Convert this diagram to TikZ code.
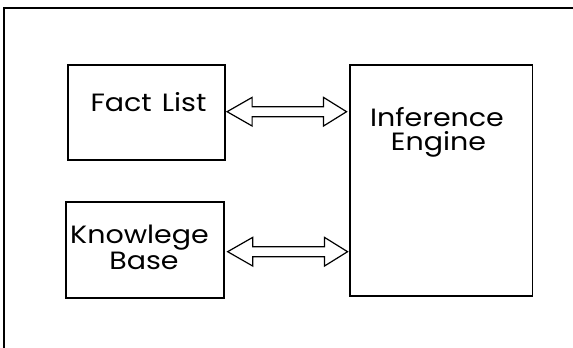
\documentclass[tikz,border=0pt]{standalone}
\usepackage{fontspec}
\setmainfont[FakeStretch=1.14]{Poppins}
\usetikzlibrary{calc}
\tikzset{
  box/.style={draw, line width=1.8pt, minimum width=#1, inner sep=0pt},
  lbl/.style={font=\fontsize{25}{24}\selectfont, inner sep=0pt, align=center},
  frameline/.style={line width=1.4pt},
  arrowline/.style={draw, line width=1.2pt, fill=white, line join=miter},
}
\newcommand\biarrow[2]{%
  \draw[arrowline] let \p1=(#1), \p2=(#2) in
    (\x1,\y1) -- (\x1+25pt,\y1+14.3pt) -- (\x1+25pt,\y1+5pt) -- (\x2-23pt,\y1+5pt)
    -- (\x2-23pt,\y1+14.3pt) -- (\x2,\y1) -- (\x2-23pt,\y1-14.3pt) -- (\x2-23pt,\y1-5pt)
    -- (\x1+25pt,\y1-5pt) -- (\x1+25pt,\y1-14.3pt) -- cycle;}
\begin{document}
\begin{tikzpicture}[x=1pt, y=-1pt]
\useasboundingbox (0,0) rectangle (573,348);
% outer frame (top and left visible)
\coordinate (ftl) at (4,8);
\coordinate (ftr) at (573,8);
\coordinate (fbl) at (4,348);
\draw[frameline] (ftr) -- (ftl) -- (fbl);
% boxes
\node[box=157pt, minimum height=95pt] (fl) at (146.2,112.5) {};
\node[box=157.7pt, minimum height=95.4pt] (kb) at (144.9,250) {};
\node[box=182.5pt, minimum height=231pt] (ie) at (441.2,180.5) {};
% labels
\node[lbl, anchor=base] (flt) at (148.5,111) {Fact\hspace{0.4em}List};
\node[lbl, anchor=base] (kbt1) at (139.5,243.3) {Knowlege};
\node[lbl, anchor=base] (kbt2) at (144,269.5) {Base};
\node[lbl, anchor=base] (iet1) at (437,126.5) {Inference};
\node[lbl, anchor=base] (iet2) at (438.5,150) {Engine};
% arrow endpoints
\coordinate (a1) at ($(fl.east)+(1.5,-0.8)$);
\coordinate (b1) at ($(fl.east -| ie.west)+(-2.5,-0.8)$);
\coordinate (a2) at ($(kb.east)+(3,1.7)$);
\coordinate (b2) at ($(kb.east -| ie.west)+(-1.5,1.7)$);
\biarrow{a1}{b1}
\biarrow{a2}{b2}
\end{tikzpicture}
\end{document}
